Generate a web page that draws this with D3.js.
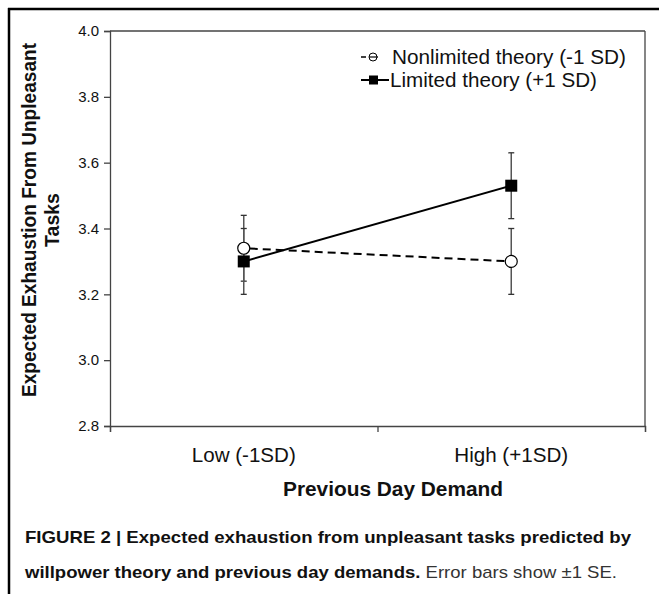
<!DOCTYPE html>
<html>
<head>
<meta charset="utf-8">
<script src="https://cdn.jsdelivr.net/npm/d3@7/dist/d3.min.js"></script>
<style>
  html, body { margin: 0; padding: 0; background: #fff; }
  svg { display: block; }
  text { font-family: "Liberation Sans", Arial, Helvetica, sans-serif; fill: #111; }
</style>
</head>
<body>
<svg id="chart" width="659" height="594"></svg>
<script>
// ---- data ----
const categories = ["Low (-1SD)", "High (+1SD)"];
const seriesNames = ["Nonlimited theory (-1 SD)", "Limited theory (+1 SD)"];
const nonlimited = [3.34, 3.30];
const nonlimitedSE = [0.10, 0.10];
const limited = [3.30, 3.53];
const limitedSE = [0.10, 0.10];
const yTicks = [2.8, 3.0, 3.2, 3.4, 3.6, 3.8, 4.0];
const yDomain = [2.8, 4.0];
const xTitle = "Previous Day Demand";
const yTitleLines = ["Expected Exhaustion From Unpleasant", "Tasks"];

const svg = d3.select("#chart");
const W = 659, H = 594;
const m = { left: 110, top: 31, right: 645, bottom: 426 };

// figure frame (left + top rule)
svg.append("line").attr("x1", 9).attr("x2", 9).attr("y1", 8).attr("y2", H).attr("stroke", "#000").attr("stroke-width", 2.5);
svg.append("line").attr("x1", 8).attr("x2", W).attr("y1", 9).attr("y2", 9).attr("stroke", "#000").attr("stroke-width", 2.5);

const x = d3.scaleBand().domain(categories).range([m.left, m.right]).padding(0);
const xb = d3.scaleLinear().domain([0, categories.length]).range([m.left, m.right]);
const y = d3.scaleLinear().domain(yDomain).range([m.bottom, m.top]);

const axisColor = "#444";

// plot box (top and right)
svg.append("line").attr("x1", m.left).attr("x2", m.right).attr("y1", m.top).attr("y2", m.top).attr("stroke", axisColor).attr("stroke-width", 1.3);
svg.append("line").attr("x1", m.right).attr("x2", m.right).attr("y1", m.top).attr("y2", m.bottom).attr("stroke", axisColor).attr("stroke-width", 1.3);

// y axis
const gy = svg.append("g").attr("transform", `translate(${m.left},0)`)
  .call(d3.axisLeft(y).tickValues(yTicks).tickFormat(d3.format(".1f")).tickSize(6).tickPadding(5));
gy.select(".domain").attr("stroke", axisColor).attr("stroke-width", 1.3);
gy.selectAll(".tick line").attr("stroke", axisColor).attr("stroke-width", 1.3);
gy.selectAll(".tick text").style("font-size", "15px").style("font-family", '"Liberation Sans", Arial, sans-serif').attr("fill", "#222");

// x axis (ticks at category boundaries)
const gx = svg.append("g").attr("transform", `translate(0,${m.bottom})`)
  .call(d3.axisBottom(xb).tickValues(d3.range(categories.length + 1)).tickFormat("").tickSize(6));
gx.select(".domain").attr("stroke", axisColor).attr("stroke-width", 1.3);
gx.selectAll(".tick line").attr("stroke", axisColor).attr("stroke-width", 1.3);

// x category labels
svg.selectAll(".xlab").data(categories).enter().append("text")
  .attr("class", "xlab")
  .attr("x", d => x(d) + x.bandwidth() / 2)
  .attr("y", 462)
  .attr("text-anchor", "middle")
  .style("font-size", "20px")
  .attr("textLength", (d, i) => [104, 114][i])
  .attr("lengthAdjust", "spacingAndGlyphs")
  .text(d => d);

// x title
svg.append("text").attr("x", 393).attr("y", 496).attr("text-anchor", "middle")
  .style("font-size", "20px").style("font-weight", "bold")
  .attr("textLength", 220).attr("lengthAdjust", "spacingAndGlyphs")
  .text(xTitle);

// y title
const yt = svg.append("text").attr("transform", "translate(0,220) rotate(-90)").attr("text-anchor", "middle")
  .style("font-size", "19.5px").style("font-weight", "bold");
yt.append("tspan").attr("x", 0).attr("y", 36).attr("textLength", 354).attr("lengthAdjust", "spacingAndGlyphs").text(yTitleLines[0]);
yt.append("tspan").attr("x", 0).attr("y", 59).text(yTitleLines[1]);

const cx = d => x(d) + x.bandwidth() / 2;

// error bars
function errorBars(vals, se) {
  const g = svg.append("g");
  categories.forEach((c, i) => {
    const xx = cx(c), lo = y(vals[i] - se[i]), hi = y(vals[i] + se[i]);
    g.append("line").attr("x1", xx).attr("x2", xx).attr("y1", lo).attr("y2", hi).attr("stroke", "#555").attr("stroke-width", 1.5);
    [lo, hi].forEach(yy => g.append("line").attr("x1", xx - 3).attr("x2", xx + 3).attr("y1", yy).attr("y2", yy).attr("stroke", "#333").attr("stroke-width", 1.3));
  });
}
errorBars(nonlimited, nonlimitedSE);
errorBars(limited, limitedSE);

const line = d3.line().x((d, i) => cx(categories[i])).y(d => y(d));

svg.append("path").datum(nonlimited).attr("d", line).attr("fill", "none")
  .attr("stroke", "#000").attr("stroke-width", 2).attr("stroke-dasharray", "8,5").attr("stroke-dashoffset", -6);
svg.append("path").datum(limited).attr("d", line).attr("fill", "none")
  .attr("stroke", "#000").attr("stroke-width", 2);

// markers
svg.selectAll(".circ").data(nonlimited).enter().append("circle")
  .attr("cx", (d, i) => cx(categories[i])).attr("cy", d => y(d)).attr("r", 6)
  .attr("fill", "#fff").attr("stroke", "#000").attr("stroke-width", 1.2);
svg.selectAll(".sq").data(limited).enter().append("rect")
  .attr("x", (d, i) => cx(categories[i]) - 6).attr("y", d => y(d) - 6)
  .attr("width", 12).attr("height", 12).attr("fill", "#000");

// legend
const lg = svg.append("g");
// nonlimited symbol
lg.append("line").attr("x1", 361).attr("x2", 366).attr("y1", 57).attr("y2", 57).attr("stroke", "#000").attr("stroke-width", 1.5);
lg.append("line").attr("x1", 369).attr("x2", 378).attr("y1", 57).attr("y2", 57).attr("stroke", "#000").attr("stroke-width", 1.2);
lg.append("circle").attr("cx", 373).attr("cy", 57).attr("r", 4).attr("fill", "none").attr("stroke", "#000").attr("stroke-width", 1);
lg.append("text").attr("x", 392).attr("y", 64).style("font-size", "20px")
  .attr("textLength", 234).attr("lengthAdjust", "spacingAndGlyphs").text(seriesNames[0]);
// limited symbol
lg.append("line").attr("x1", 361).attr("x2", 389).attr("y1", 80).attr("y2", 80).attr("stroke", "#000").attr("stroke-width", 2);
lg.append("rect").attr("x", 369).attr("y", 75.5).attr("width", 9).attr("height", 9).attr("fill", "#000");
lg.append("text").attr("x", 390).attr("y", 87).style("font-size", "20px")
  .attr("textLength", 207).attr("lengthAdjust", "spacingAndGlyphs").text(seriesNames[1]);

// caption
svg.append("text").attr("x", 25).attr("y", 543).style("font-size", "17px").style("font-weight", "bold")
  .attr("textLength", 606).attr("lengthAdjust", "spacingAndGlyphs")
  .text("FIGURE 2 | Expected exhaustion from unpleasant tasks predicted by");
const c2 = svg.append("text").attr("x", 25).attr("y", 578).style("font-size", "17px")
  .attr("textLength", 592).attr("lengthAdjust", "spacingAndGlyphs");
c2.append("tspan").style("font-weight", "bold").text("willpower theory and previous day demands.");
c2.append("tspan").attr("fill", "#333").text(" Error bars show \u00B11 SE.");
</script>
</body>
</html>
